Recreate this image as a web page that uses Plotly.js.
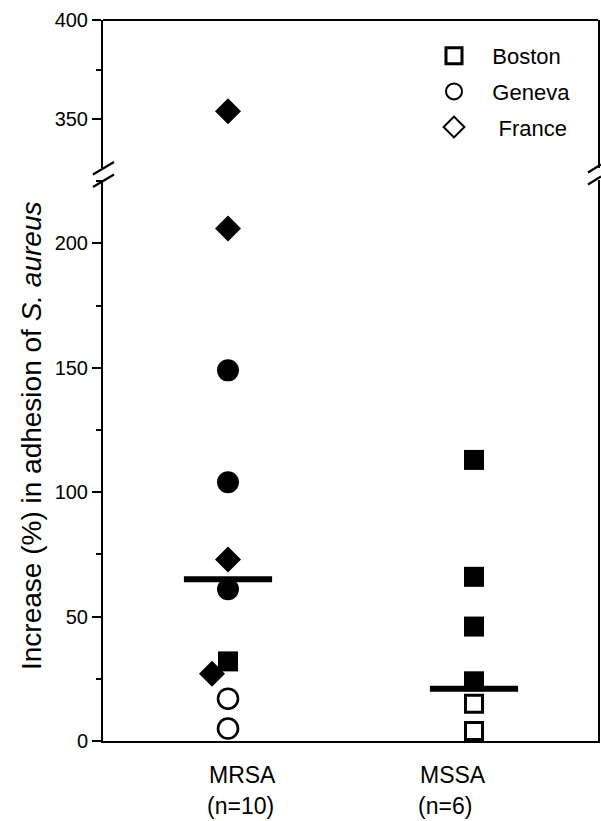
<!DOCTYPE html>
<html>
<head>
<meta charset="utf-8">
<script src="https://cdn.plot.ly/plotly-3.0.1.min.js"></script>
<style>html,body{margin:0;padding:0;background:#fff;}#chart{width:601px;height:821px;}</style>
</head>
<body>
<div id="chart"></div>
<script>
// ---------- data ----------
const categories = ['MRSA', 'MSSA'];
const nLabels = ['(n=10)', '(n=6)'];
const legendNames = ['Boston', 'Geneva', 'France'];

// MRSA (filled = solid markers, open = hollow markers)
const mrsaFranceFilled = [354, 206, 73, 27];
const mrsaGenevaFilled = [149, 104, 61];
const mrsaGenevaOpen = [17, 5];
const mrsaBostonFilled = [32];
// MSSA
const mssaBostonFilled = [113, 66, 46, 24];
const mssaBostonOpen = [15, 4];
// horizontal bars (central values)
const medians = [65, 21];

// ---------- layout constants ----------
const W = 601, H = 821;
const M = {l: 103, r: 3, t: 20, b: 80};
const plotW = W - M.l - M.r, plotH = H - M.t - M.b;
const lowerRange = [0, 225.5];
const upperRange = [325.3, 400];
const lowerTop = 0.778, upperBottom = 0.7947;
const breakValue = 300;
const xRange = [-0.5081, 1.504];
const unitPx = plotW / (xRange[1] - xRange[0]);

function pxToPaperX(px) { return (px - M.l) / plotW; }
function pxToPaperY(py) { return (H - M.b - py) / plotH; }

const traces = [];
function addSeries(values, catIdx, symbol, filled, size, lw, jitterPx) {
  const lo = {x: [], y: []}, hi = {x: [], y: []};
  values.forEach((v, i) => {
    const dx = jitterPx && jitterPx[i] ? jitterPx[i] / unitPx : 0;
    const target = v > breakValue ? hi : lo;
    target.x.push(catIdx + dx);
    target.y.push(v);
  });
  const marker = {
    symbol: symbol,
    size: size,
    color: filled ? '#000' : '#fff',
    line: {color: '#000', width: filled ? 0 : lw}
  };
  [[lo, 'y'], [hi, 'y2']].forEach(([d, ax]) => {
    if (!d.x.length) return;
    traces.push({
      type: 'scatter', mode: 'markers', x: d.x, y: d.y, yaxis: ax,
      marker: marker, showlegend: false, hoverinfo: 'y', cliponaxis: false
    });
  });
}

addSeries(mrsaFranceFilled, 0, 'diamond', true, 20, 0, [0, 0, 0, -16]);
addSeries(mrsaGenevaFilled, 0, 'circle', true, 22, 0);
addSeries(mrsaGenevaOpen, 0, 'circle', false, 20, 2.6);
addSeries(mrsaBostonFilled, 0, 'square', true, 20, 0);
addSeries(mssaBostonFilled, 1, 'square', true, 20, 0);
addSeries(mssaBostonOpen, 1, 'square', false, 17, 3);

// central value bars
traces.push({
  type: 'scatter', mode: 'markers', x: [0, 1], y: medians, showlegend: false, hoverinfo: 'y',
  marker: {symbol: 'line-ew', size: 63, color: '#000', line: {color: '#000', width: 6}}
});

// legend entries (leading no-break spaces widen the symbol-to-text gap)
const legendSymbols = ['square-open', 'circle-open', 'diamond-open'];
const legendPad = ['\u00a0\u00a0\u00a0', '\u00a0\u00a0\u00a0', '\u00a0\u00a0\u00a0\u00a0'];
legendNames.forEach((n, i) => {
  traces.push({
    type: 'scatter', mode: 'markers', x: [null], y: [null], name: legendPad[i] + n,
    legendgroup: 'g' + i,
    marker: {symbol: legendSymbols[i], size: 16, color: '#000', line: {width: i === 0 ? 3 : 2}}
  });
});

// break marks
const shapes = [];
const breakPy = 174.5;
function slash(cx, halfW, rise, dy) {
  return {
    type: 'line', xref: 'paper', yref: 'paper',
    x0: pxToPaperX(cx - halfW), y0: pxToPaperY(breakPy + dy + rise / 2),
    x1: pxToPaperX(cx + halfW), y1: pxToPaperY(breakPy + dy - rise / 2),
    line: {color: '#000', width: 2.2}
  };
}
shapes.push(slash(M.l + 0.5, 10.5, 12.5, -6.2), slash(M.l + 0.5, 10.5, 12.5, 6.2));
shapes.push(slash(W - M.r - 3.5, 6.5, 8, -6), slash(W - M.r - 3.5, 6.5, 8, 6));
// top frame line
shapes.push({type: 'line', xref: 'paper', yref: 'paper', x0: 0, x1: 1, y0: 1, y1: 1,
  line: {color: '#000', width: 2}});

const font = {family: 'Liberation Sans, Arial, Helvetica, sans-serif', color: '#000'};
const annotations = [];
const nameShift = [14, -21], nShift = [12, -29];
categories.forEach((c, i) => {
  annotations.push({x: i, xref: 'x', y: pxToPaperY(775), yref: 'paper', text: c, showarrow: false,
    xshift: nameShift[i], font: Object.assign({size: 23}, font), xanchor: 'center', yanchor: 'middle'});
  annotations.push({x: i, xref: 'x', y: pxToPaperY(806), yref: 'paper', text: nLabels[i], showarrow: false,
    xshift: nShift[i], font: Object.assign({size: 23}, font), xanchor: 'center', yanchor: 'middle'});
});
annotations.push({
  x: pxToPaperX(31), y: pxToPaperY(436), xref: 'paper', yref: 'paper', showarrow: false,
  text: 'Increase (%) in adhesion of <i>S. aureus</i>', textangle: -90,
  font: Object.assign({size: 28}, font), xanchor: 'center', yanchor: 'middle'
});

const yCommon = {
  showline: true, linewidth: 2, linecolor: '#000', mirror: true,
  ticks: 'outside', ticklen: 9, tickwidth: 2, tickcolor: '#000',
  dtick: 50, showgrid: false, zeroline: false,
  tickfont: Object.assign({size: 20}, font),
  minor: {dtick: 25, ticks: 'outside', ticklen: 5, tickwidth: 2, tickcolor: '#000', showgrid: false}
};

const layout = {
  width: W, height: H,
  margin: M,
  paper_bgcolor: '#fff', plot_bgcolor: '#fff',
  showlegend: true,
  legend: {
    x: pxToPaperX(434), y: pxToPaperY(35), xanchor: 'left', yanchor: 'top',
    font: Object.assign({size: 22}, font), tracegroupgap: 4, bgcolor: 'rgba(0,0,0,0)'
  },
  xaxis: {
    range: xRange, showline: true, linewidth: 2, linecolor: '#000',
    showticklabels: false, ticks: '', showgrid: false, zeroline: false, fixedrange: true
  },
  yaxis: Object.assign({}, yCommon, {domain: [0, lowerTop], range: lowerRange}),
  yaxis2: Object.assign({}, yCommon, {domain: [upperBottom, 1], range: upperRange, anchor: 'x'}),
  shapes: shapes,
  annotations: annotations
};

Plotly.newPlot('chart', traces, layout, {displayModeBar: false, staticPlot: true});
</script>
</body>
</html>
